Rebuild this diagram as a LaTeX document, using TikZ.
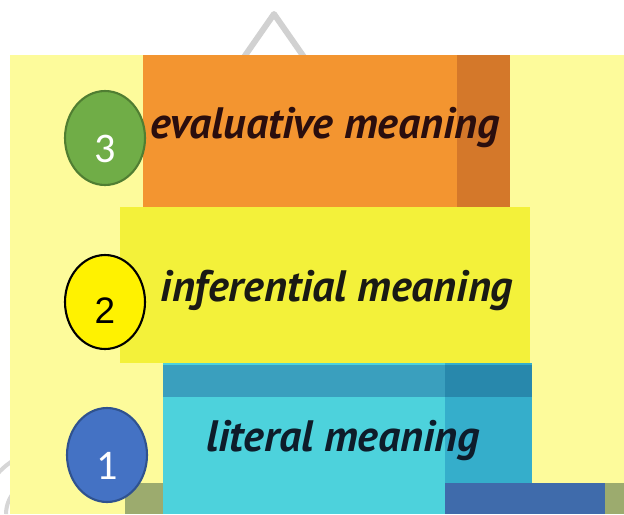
\documentclass[tikz,border=0pt]{standalone}
\usepackage{fontspec}
\setmainfont{PT Sans}
\newfontfamily\numfont{Carlito}
\newfontfamily\arialfont{Liberation Sans}
\usetikzlibrary{positioning, shapes.geometric}
\definecolor{paleyel}{HTML}{FDFB9B}
\definecolor{orblock}{HTML}{F39530}
\definecolor{orside}{HTML}{D4782A}
\definecolor{yelblock}{HTML}{F3F13A}
\definecolor{cyblock}{HTML}{4DD2DC}
\definecolor{cytop}{HTML}{3A9FBE}
\definecolor{cyside}{HTML}{35AECB}
\definecolor{cycorner}{HTML}{2888AC}
\definecolor{olive}{HTML}{9CAB6E}
\definecolor{dkblue}{HTML}{3F6BAB}
\definecolor{txtbrown}{HTML}{2A0E0E}
\definecolor{txtblack}{HTML}{1A1A14}
\definecolor{txtnavy}{HTML}{0E1C2A}
\definecolor{gcirc}{HTML}{70AD47}
\definecolor{gedge}{HTML}{507E32}
\definecolor{bcirc}{HTML}{4472C4}
\definecolor{bedge}{HTML}{2F528F}
\tikzset{
  lab/.style={font=\fontsize{25}{28}\selectfont\bfseries\itshape},
  num/.style={ellipse, line width=1.2pt, minimum width=1.6cm, minimum height=1.88cm, inner sep=0pt},
  digit/.style={inner sep=0pt}}

\begin{document}
\begin{tikzpicture}[x=0.02cm, y=-0.02cm]
\useasboundingbox (0,0) rectangle (624,514);
	% grey outlines behind
	\coordinate (apex) at (274,14);
	\draw [line width=3.4pt, color=black!18, line join=round] (235,70) -- (apex) -- (313,70);
	\draw [line width=2.3pt, color=black!16] (-7.3,479.9) arc (215:240:70);
	\draw [line width=2.3pt, color=black!16] (16,490) arc (225:180:34);
	% background
	\fill [paleyel] (10,55) rectangle (624,514);
	\fill [olive] (125,483) rectangle (624,514);
	\fill [dkblue] (445,483) rectangle (605,514);
	% top block
	\fill [orblock] (143,55) rectangle (510,207);
	\fill [orside] (457,55) rectangle (510,207);
	% middle block
	\fill [yelblock] (120,207) rectangle (530,363);
	% bottom block
	\fill [cyblock] (163,363) rectangle (445,514);
	\fill [cyside] (445,363) rectangle (532,483);
	\fill [cytop] (163,365) rectangle (445,397);
	\fill [cycorner] (445,365) rectangle (532,397);
	% labels
	\node [lab, text=txtbrown] (eval) at (325,128) {evaluative meaning};
	\node [lab, text=txtblack] (infer) at (337,290) {inferential meaning};
	\node [lab, text=txtnavy] (lit) at (343,441) {literal meaning};
	% numbers
	\node [num, draw=gedge, fill=gcirc] (n3) at (105,138) {};
	\node [num, draw=black, fill=yellow] (n2) at (105,302) {};
	\node [num, draw=bedge, fill=bcirc] (n1) at (107,455) {};
	\node [digit, text=white, font=\numfont\fontsize{24}{28}\selectfont] at ([yshift=-6pt]n3.center) {3};
	\node [digit, text=black, font=\arialfont\fontsize{21}{24}\selectfont] at ([yshift=-5pt]n2.center) {2};
	\node [digit, text=white, font=\numfont\fontsize{24}{28}\selectfont] at ([yshift=-6pt]n1.center) {1};
\end{tikzpicture}
\end{document}
